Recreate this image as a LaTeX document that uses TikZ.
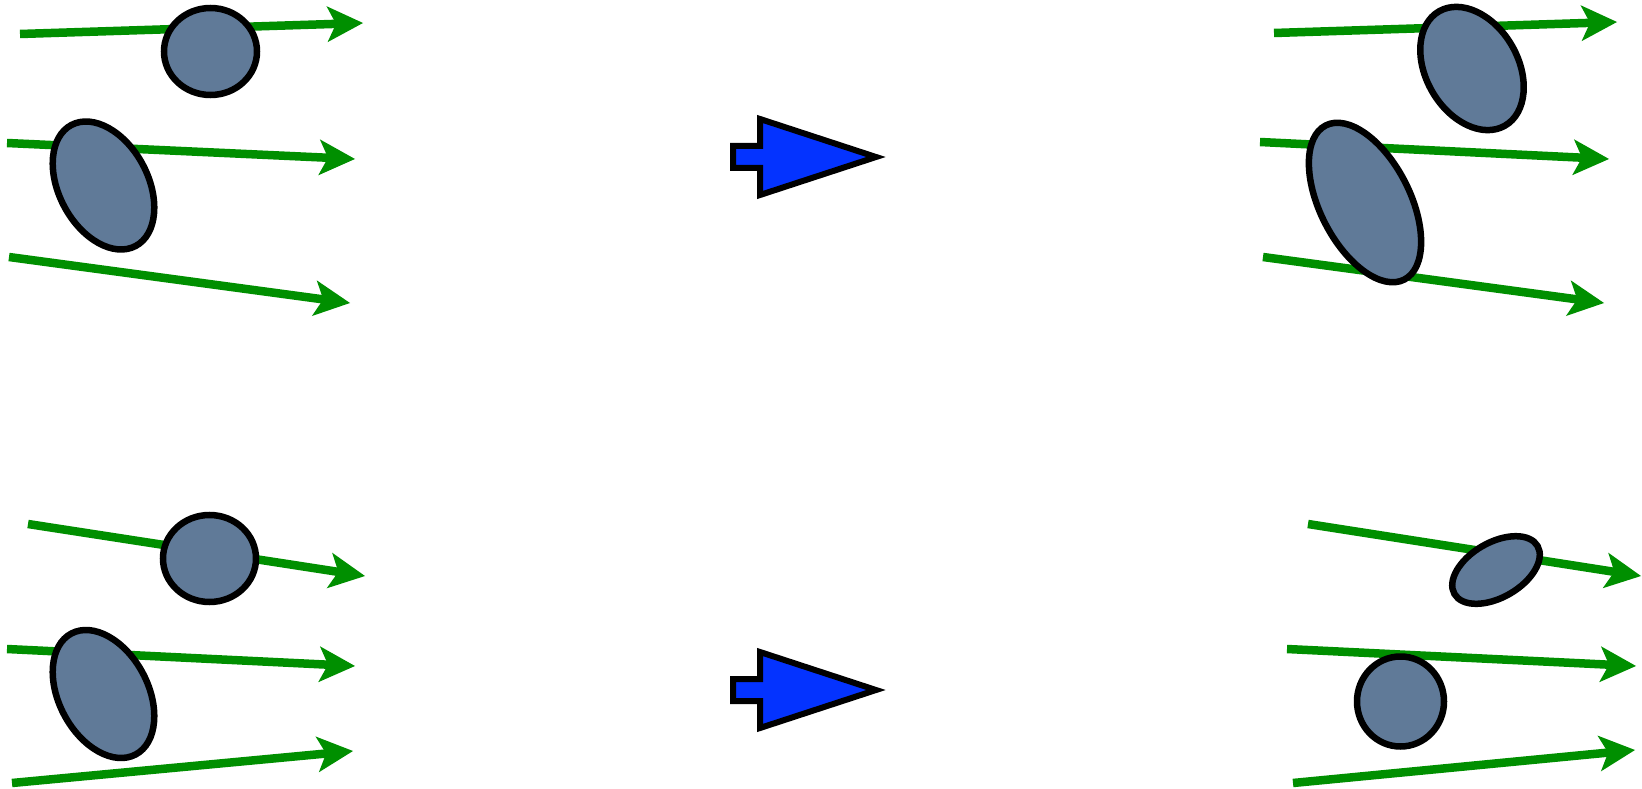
\documentclass[tikz,border=0pt]{standalone}
\usetikzlibrary{arrows.meta,shapes.geometric}
\definecolor{flowgreen}{RGB}{0,143,0}
\definecolor{stone}{RGB}{96,122,152}
\definecolor{bigblue}{RGB}{4,51,255}
\tikzset{
  flow/.style={draw=flowgreen, line width=8.5pt,
    -{Stealth[length=36pt,width=36pt,inset=9pt,line width=0pt]}},
  grain/.style={ellipse, draw=black, line width=6.5pt, fill=stone, inner sep=0pt},
  bigarrow/.style={draw=black, line width=6pt, fill=bigblue, line join=miter}
}
\begin{document}
\begin{tikzpicture}[x=1pt,y=-1pt]
\useasboundingbox (0,0) rectangle (1642,789);

% ---------- arrow coordinates ----------
\coordinate (tl1s) at (20,34);   \coordinate (tl1e) at (363,23);
\coordinate (tl2s) at (7,143);   \coordinate (tl2e) at (355,159);
\coordinate (tl3s) at (9,257);   \coordinate (tl3e) at (350,303);
\coordinate (tr1s) at (1274,33); \coordinate (tr1e) at (1617,22);
\coordinate (tr2s) at (1260,142);\coordinate (tr2e) at (1609,159);
\coordinate (tr3s) at (1263,257);\coordinate (tr3e) at (1604,303);
\coordinate (bl1s) at (28,524);  \coordinate (bl1e) at (365,576);
\coordinate (bl2s) at (7,649);   \coordinate (bl2e) at (355,666);
\coordinate (bl3s) at (12,783);  \coordinate (bl3e) at (353,751);
\coordinate (br1s) at (1308,524);\coordinate (br1e) at (1641,576);
\coordinate (br2s) at (1287,649);\coordinate (br2e) at (1636,666);
\coordinate (br3s) at (1293,783);\coordinate (br3e) at (1635,750);

% ---------- green flow arrows ----------
\foreach \p in {tl1,tl2,tl3,tr1,tr2,tr3,bl1,bl2,bl3,br1,br2,br3}
  \draw[flow] (\p s) -- (\p e);

% ---------- grains ----------
\node[grain, minimum width=93pt, minimum height=87pt] (tlA) at (210.5,51.5) {};
\node[grain, minimum width=137pt, minimum height=89pt, rotate=-62] (tlB) at (103.5,185.5) {};
\node[grain, minimum width=132pt, minimum height=92pt, rotate=-60] (trA) at (1472,68.5) {};
\node[grain, minimum width=173pt, minimum height=90pt, rotate=-63] (trB) at (1365,202.5) {};
\node[grain, minimum width=93pt, minimum height=87pt] (blA) at (209.5,558.5) {};
\node[grain, minimum width=137pt, minimum height=89pt, rotate=-62] (blB) at (103.5,694) {};
\node[grain, minimum width=96pt, minimum height=55pt, rotate=30] (brA) at (1496,570) {};
\node[grain, minimum width=87pt, minimum height=90pt] (brB) at (1400.5,701.5) {};

% ---------- blue block arrows ----------
\draw[bigarrow] (733,146) -- (760,146) -- (760,119) -- (876,157) -- (760,195)
  -- (760,168) -- (733,168) -- cycle;
\draw[bigarrow] (733,679) -- (760,679) -- (760,652) -- (876,690) -- (760,728)
  -- (760,701) -- (733,701) -- cycle;
\end{tikzpicture}
\end{document}
